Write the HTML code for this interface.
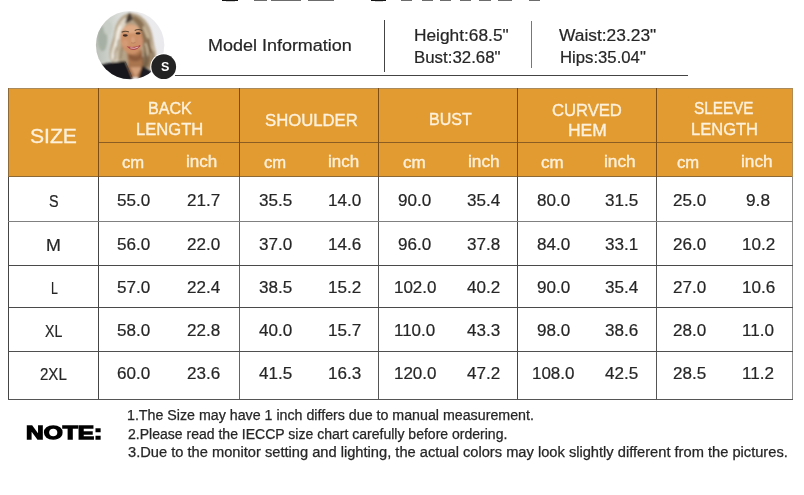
<!DOCTYPE html>
<html><head><meta charset="utf-8"><title>Size Chart</title>
<style>
html,body{margin:0;padding:0;background:#fff;}
body{width:804px;height:495px;position:relative;overflow:hidden;font-family:"Liberation Sans",sans-serif;}
.t{position:absolute;white-space:pre;line-height:1;transform-origin:0 0;display:block;}
.r{position:absolute;}
.av{position:absolute;left:92px;top:6px;}
</style></head><body>
<div class="r" style="left:8px;top:88px;width:785px;height:89px;background:#e29b30"></div>
<div class="r" style="left:8px;top:88px;width:785px;height:1px;background:#a88a5c"></div>
<div class="r" style="left:98px;top:142px;width:695px;height:1px;background:#8c5d22"></div>
<div class="r" style="left:8px;top:176px;width:785px;height:1px;background:#8d6a35"></div>
<div class="r" style="left:98px;top:88px;width:1px;height:89px;background:#7d4d16"></div>
<div class="r" style="left:239px;top:88px;width:1px;height:89px;background:#7d4d16"></div>
<div class="r" style="left:378px;top:88px;width:1px;height:89px;background:#7d4d16"></div>
<div class="r" style="left:517px;top:88px;width:1px;height:89px;background:#7d4d16"></div>
<div class="r" style="left:656px;top:88px;width:1px;height:89px;background:#7d4d16"></div>
<div class="r" style="left:8px;top:88px;width:1px;height:89px;background:#8c6a3a"></div>
<div class="r" style="left:792px;top:88px;width:1px;height:89px;background:#b08a50"></div>
<div class="r" style="left:8px;top:177px;width:1px;height:223px;background:#454545"></div>
<div class="r" style="left:98px;top:177px;width:1px;height:223px;background:#454545"></div>
<div class="r" style="left:239px;top:177px;width:1px;height:223px;background:#646464"></div>
<div class="r" style="left:378px;top:177px;width:1px;height:223px;background:#555"></div>
<div class="r" style="left:517px;top:177px;width:1px;height:223px;background:#454545"></div>
<div class="r" style="left:656px;top:177px;width:1px;height:223px;background:#555"></div>
<div class="r" style="left:792px;top:177px;width:1px;height:223px;background:#8a8a8a"></div>
<div class="r" style="left:8px;top:221px;width:785px;height:1px;background:#808080"></div>
<div class="r" style="left:8px;top:265px;width:785px;height:1px;background:#4a4a4a"></div>
<div class="r" style="left:8px;top:307px;width:785px;height:1px;background:#4a4a4a"></div>
<div class="r" style="left:8px;top:351px;width:785px;height:1px;background:#4f4f4f"></div>
<div class="r" style="left:8px;top:399px;width:785px;height:1px;background:#555"></div>
<div class="r" style="left:253.5px;top:0px;width:13.1px;height:1px;background:#6c6c6c"></div>
<div class="r" style="left:271px;top:0px;width:29.6px;height:1px;background:#6c6c6c"></div>
<div class="r" style="left:307.5px;top:0px;width:26.2px;height:1px;background:#6c6c6c"></div>
<div class="r" style="left:401px;top:0px;width:11.2px;height:1px;background:#6c6c6c"></div>
<div class="r" style="left:422.2px;top:0px;width:11.2px;height:1px;background:#6c6c6c"></div>
<div class="r" style="left:439.6px;top:0px;width:11.2px;height:1px;background:#6c6c6c"></div>
<div class="r" style="left:459.5px;top:0px;width:11.2px;height:1px;background:#6c6c6c"></div>
<div class="r" style="left:479.4px;top:0px;width:11.2px;height:1px;background:#6c6c6c"></div>
<div class="r" style="left:498px;top:0px;width:13.7px;height:1px;background:#6c6c6c"></div>
<div class="r" style="left:529px;top:0px;width:11.3px;height:1px;background:#6c6c6c"></div>
<div class="r" style="left:222px;top:0px;width:16px;height:1px;background:#151515"></div>
<div class="r" style="left:226px;top:1px;width:9px;height:1px;background:#cfcfcf"></div>
<div class="r" style="left:371px;top:0px;width:15px;height:1px;background:#151515"></div>
<div class="r" style="left:375px;top:1px;width:8px;height:1px;background:#cfcfcf"></div>
<div class="r" style="left:384px;top:20px;width:1px;height:52px;background:#444"></div>
<div class="r" style="left:531px;top:21px;width:1px;height:47px;background:#777"></div>
<div class="r" style="left:175px;top:75px;width:513px;height:1px;background:#444"></div>
<svg class="av" width="90" height="78" viewBox="0 0 90 78">
<defs>
<clipPath id="cc"><circle cx="38.1" cy="39.1" r="34.2"/></clipPath>
<filter id="bl" x="-10%" y="-10%" width="120%" height="120%"><feGaussianBlur stdDeviation="7"/></filter>
<filter id="bl2" x="-10%" y="-10%" width="120%" height="120%"><feGaussianBlur stdDeviation="3.2"/></filter>
<linearGradient id="bg" x1="0" y1="0" x2="1" y2="0"><stop offset="0" stop-color="#b4bab0"/><stop offset="0.25" stop-color="#cfd3cd"/><stop offset="0.55" stop-color="#ededee"/><stop offset="1" stop-color="#e9e8ec"/></linearGradient>
</defs>
<g clip-path="url(#cc)">
<g transform="translate(2,3) scale(0.14545)">
<rect x="-20" y="-20" width="540" height="540" fill="url(#bg)"/>
<g filter="url(#bl)">
<ellipse cx="58" cy="205" rx="34" ry="85" fill="#a7b0a4"/>
<ellipse cx="95" cy="130" rx="30" ry="50" fill="#c8cec6"/>
<!-- hair back mass -->
<path d="M245 28 C190 35 150 90 140 160 C135 210 105 255 108 320 C110 362 135 388 172 385 L390 412 C428 372 432 320 422 280 C405 230 408 170 378 115 C350 62 300 25 245 28Z" fill="#b5a388"/>
<!-- left light hair -->
<path d="M215 58 C168 88 148 150 146 200 C138 250 112 290 118 338 C123 366 150 376 178 366 C160 320 176 262 186 212 C190 160 205 110 240 80Z" fill="#ded5c6"/>
<path d="M182 115 C158 160 162 200 150 240 C140 280 126 300 132 345" stroke="#f3efe6" stroke-width="16" fill="none"/>
<path d="M196 150 C180 200 182 240 168 280 C160 310 160 340 172 365" stroke="#b9a88c" stroke-width="9" fill="none"/>
<path d="M150 260 C135 290 140 320 150 350" stroke="#cbbda6" stroke-width="10" fill="none"/>
<!-- right darker hair -->
<path d="M270 45 C322 58 352 110 362 160 C374 220 398 260 404 310 C407 350 398 382 382 402 L333 392 C345 340 346 290 336 240 C330 180 320 120 270 80Z" fill="#8b7152"/>
<path d="M340 120 C368 185 384 235 412 288" stroke="#cdbb9e" stroke-width="15" fill="none"/>
<path d="M352 235 C372 275 372 300 364 330" stroke="#d9cab0" stroke-width="10" fill="none"/>
<path d="M352 300 C368 340 362 372 350 398" stroke="#705c44" stroke-width="16" fill="none"/>
<path d="M392 300 C404 340 398 372 384 400" stroke="#b7a486" stroke-width="12" fill="none"/>
<path d="M172 210 C150 235 175 262 150 290 C135 310 150 335 135 355" stroke="#a39178" stroke-width="9" fill="none"/>
<path d="M200 250 C182 280 196 310 178 345" stroke="#8f7b60" stroke-width="9" fill="none"/>
<path d="M372 200 C392 235 372 262 398 295 C415 320 400 350 410 375" stroke="#6f5a40" stroke-width="10" fill="none"/>
<path d="M335 330 C330 355 338 375 330 395" stroke="#5e4a34" stroke-width="12" fill="none"/>
<!-- root -->
<path d="M243 25 C228 40 222 70 214 100 L245 88 L268 70 C264 50 256 32 243 25Z" fill="#463a30"/>
<!-- neck/chest -->
<path d="M225 290 L235 370 L225 470 L340 470 L335 390 L330 280Z" fill="#a9744f"/>
<path d="M240 300 Q285 350 330 295 L330 340 Q285 380 238 340Z" fill="#8d5c3c"/>
<path d="M250 400 L285 470 L330 400Z" fill="#d3a07c"/>
<!-- face -->
<ellipse cx="258" cy="208" rx="76" ry="104" fill="#cd9168" transform="rotate(-6 258 208)"/>
<ellipse cx="256" cy="138" rx="54" ry="28" fill="#deab86"/>
<ellipse cx="214" cy="236" rx="22" ry="26" fill="#d49a76"/>
<ellipse cx="316" cy="220" rx="20" ry="26" fill="#cf9270"/>
<ellipse cx="268" cy="215" rx="10" ry="24" fill="#dba783"/>
<!-- jacket -->
<path d="M38 388 C90 370 160 364 215 358 L268 490 L0 500Z" fill="#18181a"/>
<path d="M330 392 C360 400 395 425 415 450 L380 500 L300 500Z" fill="#1e1e20"/>
</g>
<g filter="url(#bl2)">
<ellipse cx="215" cy="182" rx="17" ry="8" fill="#3c2c24"/>
<ellipse cx="303" cy="168" rx="17" ry="8" fill="#3c2c24"/>
<path d="M190 160 Q215 146 240 158" stroke="#5e4836" stroke-width="7" fill="none"/>
<path d="M280 148 Q305 134 332 148" stroke="#5e4836" stroke-width="7" fill="none"/>
<path d="M235 262 Q275 300 318 252 Q278 270 235 262Z" fill="#b04a4e" stroke="#b04a4e" stroke-width="7"/>
<path d="M250 267 Q277 277 305 261" stroke="#f2e6e2" stroke-width="5" fill="none"/>
<path d="M255 232 Q268 240 285 230" stroke="#b47c5c" stroke-width="6" fill="none"/>
<path d="M215 362 L262 470" stroke="#3a3a3c" stroke-width="4" fill="none"/>
</g>
</g>
</g>
<circle cx="71.7" cy="60.7" r="13.4" fill="#fff"/>
<circle cx="71.7" cy="60.7" r="12.4" fill="#232323"/>
</svg>

<span class="t" style="left:207.95px;top:37.83px;font-size:15.8px;color:#262626;transform:scaleX(1.1373);-webkit-text-stroke:0.2px #262626;">Model Information</span>
<span class="t" style="left:413.55px;top:27.69px;font-size:15.6px;color:#262626;transform:scaleX(1.1099);-webkit-text-stroke:0.2px #262626;">Height:68.5"</span>
<span class="t" style="left:413.55px;top:50.09px;font-size:15.6px;color:#262626;transform:scaleX(1.0804);-webkit-text-stroke:0.2px #262626;">Bust:32.68"</span>
<span class="t" style="left:559.25px;top:27.69px;font-size:15.6px;color:#262626;transform:scaleX(1.1143);-webkit-text-stroke:0.2px #262626;">Waist:23.23"</span>
<span class="t" style="left:559.65px;top:50.09px;font-size:15.6px;color:#262626;transform:scaleX(1.0717);-webkit-text-stroke:0.2px #262626;">Hips:35.04"</span>
<span class="t" style="left:160.75px;top:60.16px;font-size:13.4px;color:#fff;font-weight:bold;transform:scaleX(0.9352);">S</span>
<span class="t" style="left:29.55px;top:126.71px;font-size:19.6px;color:#fdf1dd;transform:scaleX(1.0751);-webkit-text-stroke:0.3px #fdf1dd;">SIZE</span>
<span class="t" style="left:147.55px;top:101.16px;font-size:16px;color:#fdf1dd;transform:scaleX(1.0063);-webkit-text-stroke:0.35px #fdf1dd;">BACK</span>
<span class="t" style="left:135.95px;top:121.56px;font-size:16px;color:#fdf1dd;transform:scaleX(1.0358);-webkit-text-stroke:0.35px #fdf1dd;">LENGTH</span>
<span class="t" style="left:264.95px;top:112.66px;font-size:16px;color:#fdf1dd;transform:scaleX(1.0430);-webkit-text-stroke:0.35px #fdf1dd;">SHOULDER</span>
<span class="t" style="left:429.05px;top:112.46px;font-size:16px;color:#fdf1dd;transform:scaleX(1.0018);-webkit-text-stroke:0.35px #fdf1dd;">BUST</span>
<span class="t" style="left:551.55px;top:102.96px;font-size:16px;color:#fdf1dd;transform:scaleX(1.0379);-webkit-text-stroke:0.35px #fdf1dd;">CURVED</span>
<span class="t" style="left:567.55px;top:123.36px;font-size:16px;color:#fdf1dd;transform:scaleX(1.0901);-webkit-text-stroke:0.35px #fdf1dd;">HEM</span>
<span class="t" style="left:694.25px;top:101.16px;font-size:16px;color:#fdf1dd;transform:scaleX(0.9558);-webkit-text-stroke:0.35px #fdf1dd;">SLEEVE</span>
<span class="t" style="left:691.05px;top:121.56px;font-size:16px;color:#fdf1dd;transform:scaleX(1.0328);-webkit-text-stroke:0.35px #fdf1dd;">LENGTH</span>
<span class="t" style="left:121.75px;top:154.56px;font-size:16px;color:#fdf1dd;transform:scaleX(1.0386);-webkit-text-stroke:0.35px #fdf1dd;">cm</span>
<span class="t" style="left:264.05px;top:154.56px;font-size:16px;color:#fdf1dd;transform:scaleX(1.0386);-webkit-text-stroke:0.35px #fdf1dd;">cm</span>
<span class="t" style="left:403.35px;top:154.56px;font-size:16px;color:#fdf1dd;transform:scaleX(1.0620);-webkit-text-stroke:0.35px #fdf1dd;">cm</span>
<span class="t" style="left:541.05px;top:154.56px;font-size:16px;color:#fdf1dd;transform:scaleX(1.0573);-webkit-text-stroke:0.35px #fdf1dd;">cm</span>
<span class="t" style="left:676.85px;top:154.56px;font-size:16px;color:#fdf1dd;transform:scaleX(1.0386);-webkit-text-stroke:0.35px #fdf1dd;">cm</span>
<span class="t" style="left:186.05px;top:153.66px;font-size:16px;color:#fdf1dd;transform:scaleX(1.0655);-webkit-text-stroke:0.35px #fdf1dd;">inch</span>
<span class="t" style="left:328.05px;top:153.66px;font-size:16px;color:#fdf1dd;transform:scaleX(1.0587);-webkit-text-stroke:0.35px #fdf1dd;">inch</span>
<span class="t" style="left:467.55px;top:153.66px;font-size:16px;color:#fdf1dd;transform:scaleX(1.0791);-webkit-text-stroke:0.35px #fdf1dd;">inch</span>
<span class="t" style="left:603.95px;top:153.66px;font-size:16px;color:#fdf1dd;transform:scaleX(1.0757);-webkit-text-stroke:0.35px #fdf1dd;">inch</span>
<span class="t" style="left:741.15px;top:153.66px;font-size:16px;color:#fdf1dd;transform:scaleX(1.0757);-webkit-text-stroke:0.35px #fdf1dd;">inch</span>
<span class="t" style="left:49.15px;top:194.06px;font-size:16px;color:#262626;transform:scaleX(0.8941);-webkit-text-stroke:0.2px #262626;">S</span>
<span class="t" style="left:117.00px;top:193.16px;font-size:16px;color:#262626;transform:scaleX(1.0667);-webkit-text-stroke:0.2px #262626;">55.0</span>
<span class="t" style="left:187.40px;top:193.16px;font-size:16px;color:#262626;transform:scaleX(1.0667);-webkit-text-stroke:0.2px #262626;">21.7</span>
<span class="t" style="left:258.60px;top:193.16px;font-size:16px;color:#262626;transform:scaleX(1.0667);-webkit-text-stroke:0.2px #262626;">35.5</span>
<span class="t" style="left:327.90px;top:193.16px;font-size:16px;color:#262626;transform:scaleX(1.0667);-webkit-text-stroke:0.2px #262626;">14.0</span>
<span class="t" style="left:398.40px;top:193.16px;font-size:16px;color:#262626;transform:scaleX(1.0667);-webkit-text-stroke:0.2px #262626;">90.0</span>
<span class="t" style="left:467.40px;top:193.16px;font-size:16px;color:#262626;transform:scaleX(1.0667);-webkit-text-stroke:0.2px #262626;">35.4</span>
<span class="t" style="left:536.90px;top:193.16px;font-size:16px;color:#262626;transform:scaleX(1.0667);-webkit-text-stroke:0.2px #262626;">80.0</span>
<span class="t" style="left:604.70px;top:193.16px;font-size:16px;color:#262626;transform:scaleX(1.0667);-webkit-text-stroke:0.2px #262626;">31.5</span>
<span class="t" style="left:672.90px;top:193.16px;font-size:16px;color:#262626;transform:scaleX(1.0667);-webkit-text-stroke:0.2px #262626;">25.0</span>
<span class="t" style="left:746.41px;top:193.16px;font-size:16px;color:#262626;transform:scaleX(1.0782);-webkit-text-stroke:0.2px #262626;">9.8</span>
<span class="t" style="left:46.45px;top:237.76px;font-size:16px;color:#262626;transform:scaleX(1.1140);-webkit-text-stroke:0.2px #262626;">M</span>
<span class="t" style="left:117.00px;top:236.86px;font-size:16px;color:#262626;transform:scaleX(1.0667);-webkit-text-stroke:0.2px #262626;">56.0</span>
<span class="t" style="left:187.40px;top:236.86px;font-size:16px;color:#262626;transform:scaleX(1.0667);-webkit-text-stroke:0.2px #262626;">22.0</span>
<span class="t" style="left:258.60px;top:236.86px;font-size:16px;color:#262626;transform:scaleX(1.0667);-webkit-text-stroke:0.2px #262626;">37.0</span>
<span class="t" style="left:327.90px;top:236.86px;font-size:16px;color:#262626;transform:scaleX(1.0667);-webkit-text-stroke:0.2px #262626;">14.6</span>
<span class="t" style="left:398.40px;top:236.86px;font-size:16px;color:#262626;transform:scaleX(1.0667);-webkit-text-stroke:0.2px #262626;">96.0</span>
<span class="t" style="left:467.40px;top:236.86px;font-size:16px;color:#262626;transform:scaleX(1.0667);-webkit-text-stroke:0.2px #262626;">37.8</span>
<span class="t" style="left:536.90px;top:236.86px;font-size:16px;color:#262626;transform:scaleX(1.0667);-webkit-text-stroke:0.2px #262626;">84.0</span>
<span class="t" style="left:604.70px;top:236.86px;font-size:16px;color:#262626;transform:scaleX(1.0667);-webkit-text-stroke:0.2px #262626;">33.1</span>
<span class="t" style="left:672.90px;top:236.86px;font-size:16px;color:#262626;transform:scaleX(1.0667);-webkit-text-stroke:0.2px #262626;">26.0</span>
<span class="t" style="left:741.80px;top:236.86px;font-size:16px;color:#262626;transform:scaleX(1.0667);-webkit-text-stroke:0.2px #262626;">10.2</span>
<span class="t" style="left:50.85px;top:280.56px;font-size:16px;color:#262626;transform:scaleX(0.7662);-webkit-text-stroke:0.2px #262626;">L</span>
<span class="t" style="left:117.00px;top:279.66px;font-size:16px;color:#262626;transform:scaleX(1.0667);-webkit-text-stroke:0.2px #262626;">57.0</span>
<span class="t" style="left:187.40px;top:279.66px;font-size:16px;color:#262626;transform:scaleX(1.0667);-webkit-text-stroke:0.2px #262626;">22.4</span>
<span class="t" style="left:258.60px;top:279.66px;font-size:16px;color:#262626;transform:scaleX(1.0667);-webkit-text-stroke:0.2px #262626;">38.5</span>
<span class="t" style="left:327.90px;top:279.66px;font-size:16px;color:#262626;transform:scaleX(1.0667);-webkit-text-stroke:0.2px #262626;">15.2</span>
<span class="t" style="left:393.79px;top:279.66px;font-size:16px;color:#262626;transform:scaleX(1.0603);-webkit-text-stroke:0.2px #262626;">102.0</span>
<span class="t" style="left:467.40px;top:279.66px;font-size:16px;color:#262626;transform:scaleX(1.0667);-webkit-text-stroke:0.2px #262626;">40.2</span>
<span class="t" style="left:536.90px;top:279.66px;font-size:16px;color:#262626;transform:scaleX(1.0667);-webkit-text-stroke:0.2px #262626;">90.0</span>
<span class="t" style="left:604.70px;top:279.66px;font-size:16px;color:#262626;transform:scaleX(1.0667);-webkit-text-stroke:0.2px #262626;">35.4</span>
<span class="t" style="left:672.90px;top:279.66px;font-size:16px;color:#262626;transform:scaleX(1.0667);-webkit-text-stroke:0.2px #262626;">27.0</span>
<span class="t" style="left:741.80px;top:279.66px;font-size:16px;color:#262626;transform:scaleX(1.0667);-webkit-text-stroke:0.2px #262626;">10.6</span>
<span class="t" style="left:45.35px;top:323.86px;font-size:16px;color:#262626;transform:scaleX(0.8815);-webkit-text-stroke:0.2px #262626;">XL</span>
<span class="t" style="left:117.00px;top:322.96px;font-size:16px;color:#262626;transform:scaleX(1.0667);-webkit-text-stroke:0.2px #262626;">58.0</span>
<span class="t" style="left:187.40px;top:322.96px;font-size:16px;color:#262626;transform:scaleX(1.0667);-webkit-text-stroke:0.2px #262626;">22.8</span>
<span class="t" style="left:258.60px;top:322.96px;font-size:16px;color:#262626;transform:scaleX(1.0667);-webkit-text-stroke:0.2px #262626;">40.0</span>
<span class="t" style="left:327.90px;top:322.96px;font-size:16px;color:#262626;transform:scaleX(1.0667);-webkit-text-stroke:0.2px #262626;">15.7</span>
<span class="t" style="left:394.38px;top:322.96px;font-size:16px;color:#262626;transform:scaleX(1.0609);-webkit-text-stroke:0.2px #262626;">110.0</span>
<span class="t" style="left:467.40px;top:322.96px;font-size:16px;color:#262626;transform:scaleX(1.0667);-webkit-text-stroke:0.2px #262626;">43.3</span>
<span class="t" style="left:536.90px;top:322.96px;font-size:16px;color:#262626;transform:scaleX(1.0667);-webkit-text-stroke:0.2px #262626;">98.0</span>
<span class="t" style="left:604.70px;top:322.96px;font-size:16px;color:#262626;transform:scaleX(1.0667);-webkit-text-stroke:0.2px #262626;">38.6</span>
<span class="t" style="left:672.90px;top:322.96px;font-size:16px;color:#262626;transform:scaleX(1.0667);-webkit-text-stroke:0.2px #262626;">28.0</span>
<span class="t" style="left:742.38px;top:322.96px;font-size:16px;color:#262626;transform:scaleX(1.0678);-webkit-text-stroke:0.2px #262626;">11.0</span>
<span class="t" style="left:40.45px;top:366.66px;font-size:16px;color:#262626;transform:scaleX(0.9404);-webkit-text-stroke:0.2px #262626;">2XL</span>
<span class="t" style="left:117.00px;top:365.76px;font-size:16px;color:#262626;transform:scaleX(1.0667);-webkit-text-stroke:0.2px #262626;">60.0</span>
<span class="t" style="left:187.40px;top:365.76px;font-size:16px;color:#262626;transform:scaleX(1.0667);-webkit-text-stroke:0.2px #262626;">23.6</span>
<span class="t" style="left:258.60px;top:365.76px;font-size:16px;color:#262626;transform:scaleX(1.0667);-webkit-text-stroke:0.2px #262626;">41.5</span>
<span class="t" style="left:327.90px;top:365.76px;font-size:16px;color:#262626;transform:scaleX(1.0667);-webkit-text-stroke:0.2px #262626;">16.3</span>
<span class="t" style="left:393.79px;top:365.76px;font-size:16px;color:#262626;transform:scaleX(1.0603);-webkit-text-stroke:0.2px #262626;">120.0</span>
<span class="t" style="left:467.40px;top:365.76px;font-size:16px;color:#262626;transform:scaleX(1.0667);-webkit-text-stroke:0.2px #262626;">47.2</span>
<span class="t" style="left:532.29px;top:365.76px;font-size:16px;color:#262626;transform:scaleX(1.0603);-webkit-text-stroke:0.2px #262626;">108.0</span>
<span class="t" style="left:604.70px;top:365.76px;font-size:16px;color:#262626;transform:scaleX(1.0667);-webkit-text-stroke:0.2px #262626;">42.5</span>
<span class="t" style="left:672.90px;top:365.76px;font-size:16px;color:#262626;transform:scaleX(1.0667);-webkit-text-stroke:0.2px #262626;">28.5</span>
<span class="t" style="left:742.38px;top:365.76px;font-size:16px;color:#262626;transform:scaleX(1.0678);-webkit-text-stroke:0.2px #262626;">11.2</span>
<span class="t" style="left:127.35px;top:408.82px;font-size:13.8px;color:#262626;transform:scaleX(1.0308);-webkit-text-stroke:0.25px #262626;">1.The Size may have 1 inch differs due to manual measurement.</span>
<span class="t" style="left:127.55px;top:427.62px;font-size:13.8px;color:#262626;transform:scaleX(1.0164);-webkit-text-stroke:0.25px #262626;">2.Please read the IECCP size chart carefully before ordering.</span>
<span class="t" style="left:127.55px;top:446.32px;font-size:13.8px;color:#262626;transform:scaleX(1.0626);-webkit-text-stroke:0.25px #262626;">3.Due to the monitor setting and lighting, the actual colors may look slightly different from the pictures.</span>
<span class="t" style="left:26.15px;top:424.26px;font-size:18.6px;color:#000;font-weight:bold;transform:scaleX(1.3155);-webkit-text-stroke:1.3px #000;">NOTE:</span>
<span class="t" style="left:218.55px;top:-46.82px;font-size:52px;color:#000;font-weight:bold;transform:scaleX(1.0067);-webkit-text-stroke:1.5px #000;">SIZE</span>
<span class="t" style="left:366.55px;top:-46.82px;font-size:52px;color:#000;font-weight:bold;transform:scaleX(1.0049);-webkit-text-stroke:1.5px #000;">CHART</span>
</body></html>
